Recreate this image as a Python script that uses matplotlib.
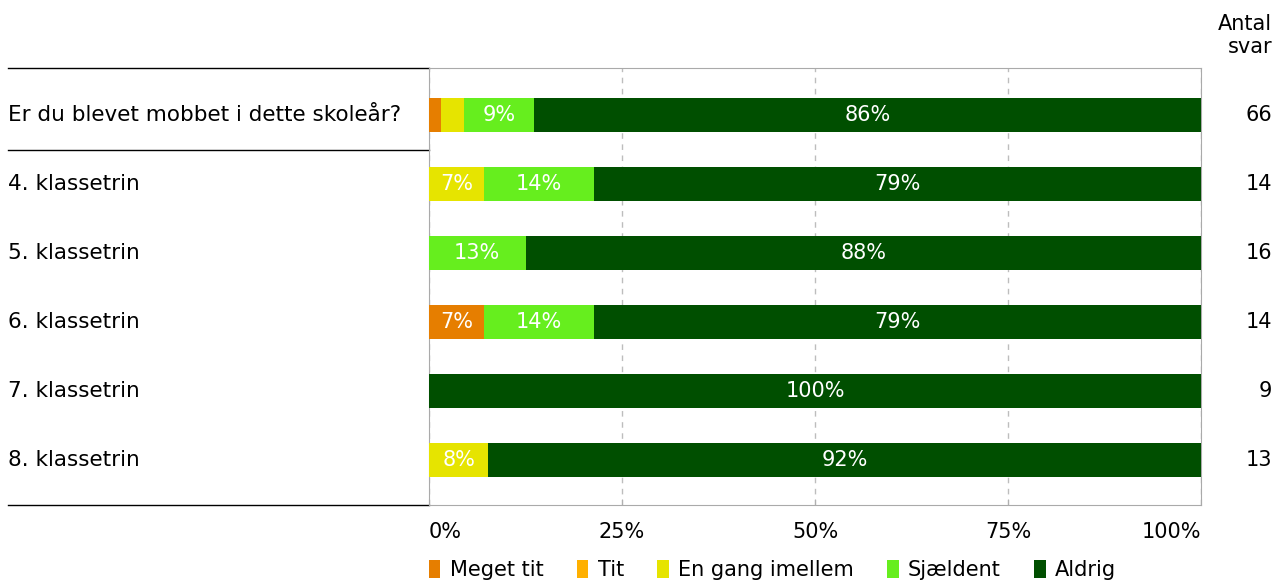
import numpy as np
import matplotlib
matplotlib.use("Agg")
from matplotlib import pyplot as plt
from matplotlib.patches import Patch

# data (percent of answers per row)
rows = ['Er du blevet mobbet i dette skoleår?', '4. klassetrin', '5. klassetrin',
        '6. klassetrin', '7. klassetrin', '8. klassetrin']
categories = ['Meget tit', 'Tit', 'En gang imellem', 'Sjældent', 'Aldrig']
meget_tit = [1.5, 0, 0, 7.1, 0, 0]
tit = [0, 0, 0, 0, 0, 0]
en_gang = [3.0, 7.1, 0, 0, 0, 7.7]
sjaeldent = [9.1, 14.3, 12.5, 14.3, 0, 0]
aldrig = [86.4, 78.6, 87.5, 78.6, 100, 92.3]
antal = [66, 14, 16, 14, 9, 13]
ticks = [0, 25, 50, 75, 100]
tick_labels = ['0%', '25%', '50%', '75%', '100%']

colors = ['#e67e00', '#ffb000', '#e6e400', '#66ee1e', '#004f00']
series = [meget_tit, tit, en_gang, sjaeldent, aldrig]
fs = 15

fig = plt.figure(figsize=(12.77, 5.82), dpi=100)
ax = fig.add_axes([429 / 1277, 77 / 582, 772 / 1277, 437 / 582])

y = np.arange(len(rows))
left = np.zeros(len(rows))
for vals, col in zip(series, colors):
    vals = np.array(vals)
    ax.barh(y, vals, left=left, height=0.48, color=col, zorder=3)
    for yi, l, v in zip(y, left, vals):
        if v >= 5:
            ax.text(l + v / 2, yi, f'{int(v + 0.5)}%', color='white', fontsize=fs,
                    ha='center', va='center', zorder=4)
    left += vals

ax.set_xlim(0, 100)
ax.set_ylim(5 + 45 / 69, -47 / 69)
ax.set_yticks([])
ax.set_xticks(ticks)
ax.set_xticklabels(tick_labels, fontsize=fs)
for lab, ha in zip(ax.get_xticklabels(), ['left', 'center', 'center', 'center', 'right']):
    lab.set_ha(ha)
ax.tick_params(axis='x', direction='in', length=4, color='#b0b0b0', pad=12)
ax.xaxis.grid(True, linestyle=(0, (4, 4)), color='#bdbdbd', linewidth=1, zorder=0)
for s in ax.spines.values():
    s.set_color('#aaaaaa')

# row labels and counts
tr = ax.get_yaxis_transform()
x0 = (8 - 429) / 772
for yi, r, n in zip(y, rows, antal):
    ax.text(x0, yi, r, transform=tr, fontsize=15.5, ha='left', va='center')
    ax.text((1272 - 429) / 772, yi, str(n), transform=tr, fontsize=fs, ha='right', va='center')
fig.text(1272 / 1277, 1 - 14 / 582, 'Antal\nsvar', fontsize=fs, ha='right', va='top',
         linespacing=1.2)

for yl in [-47 / 69, 0.5, 5 + 45 / 69]:
    ax.plot([x0, 0], [yl, yl], transform=tr, color='black', linewidth=1, clip_on=False)

handles = [Patch(facecolor=c, edgecolor='none') for c in colors]
fig.legend(handles, categories, loc='center left', bbox_to_anchor=(429 / 1277, 1 - 570 / 582),
           ncol=5, frameon=False, fontsize=fs, handlelength=0.55, handleheight=0.95,
           handletextpad=0.45, columnspacing=1.6, borderaxespad=0, borderpad=0)

fig.savefig('out.png', dpi=100)
